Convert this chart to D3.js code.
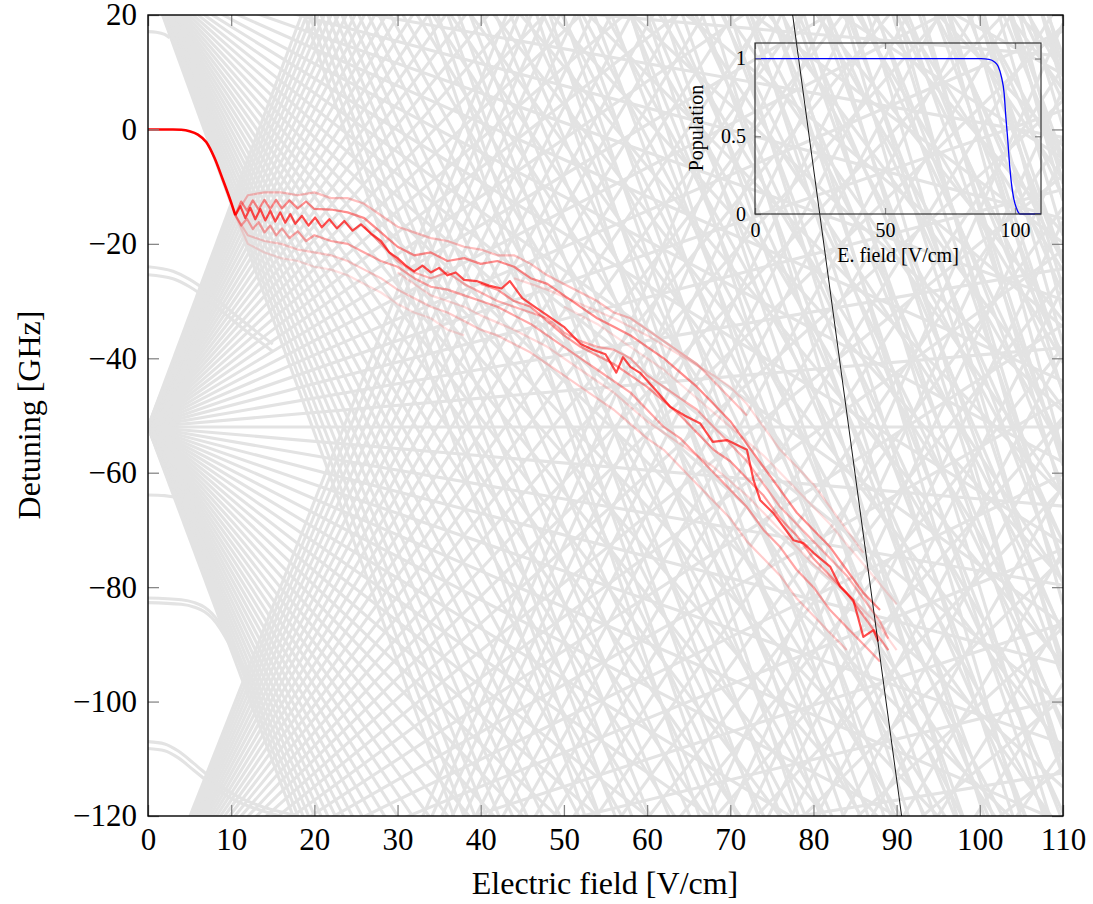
<!DOCTYPE html>
<meta charset="utf-8">
<style>
body{margin:0;background:#fff}
svg text{font-family:"Liberation Serif",serif !important;fill:#000}
</style>
<svg width="1093" height="904"></svg>
<script src="https://d3js.org/d3.v7.min.js"></script>
<script>
// hydrogenic manifolds: zero-field detuning [GHz] and slope of outermost state [GHz/(V/cm)]
var manifoldCenters = [-339, -234, -138.6, -52, 27, 98, 165, 228, 287, 342, 394, 443, 489, 532, 573, 612];
var manifoldSlopes  = [3.25, 3.45, 3.68, 3.9, 4.0, 4.15, 4.3, 4.45, 4.6, 4.75, 4.9, 5.05, 5.2, 5.35, 5.5, 5.65];
var statesPerSide = 31;

// low-l states with quadratic shift
var lowLStates = [
  [[0,17.1],[1,17],[2,16.6],[2.6,16]],
  [[0,-24],[3,-24.8],[5,-26.2],[7,-28.2],[9,-30.6],[11,-33],[13,-35.3],[15,-37.5]],
  [[0,-25.4],[3,-26.1],[5,-27.5],[7,-29.5],[9,-31.9],[11,-34.3],[13,-36.6],[15,-38.8]],
  [[0,-63.9],[2,-64],[4,-64.6],[6,-65.8]],
  [[0,-81.9],[4,-82.2],[5.6,-82.7],[6.8,-83.5],[7.7,-84.6],[8.7,-86.5],[9.6,-88.7],[11,-92.5],[12.5,-96.5]],
  [[0,-82.7],[4,-83],[5.6,-83.5],[6.8,-84.3],[7.7,-85.4],[8.7,-87.3],[9.6,-89.5],[11,-93.3],[12.5,-97.3]],
  [[0,-107],[2,-107.4],[3.6,-108.6],[5.5,-110.8],[7.7,-113.5],[9.3,-115.3],[10.8,-116.6],[12.5,-117.7],[14,-118.5],[16,-119.3],[18,-120]],
  [[0,-108.2],[2,-108.6],[3.6,-109.8],[5.5,-112],[7.7,-114.6],[9.3,-116.3],[10.8,-117.5],[12.5,-118.5],[14,-119.2],[16,-120]]
];

// adiabatic path of the initial state
var mainPath = [[0,0],[3,0],[4,-0.05],[5,-0.3],[6,-0.9],[7,-2.2],[8,-5],[9,-8.8],[10,-12.8],[10.5,-15],
  [11.1,-13.4],[11.7,-15.5],[12.3,-13.7],[12.9,-15.7],[13.5,-13.9],[14.1,-15.9],[14.7,-14.2],[15.3,-16.1],
  [15.9,-14.5],[16.5,-16.3],[17.1,-14.8],[17.7,-16.5],[18.5,-15.1],[19.3,-16.8],[20.1,-15.4],[20.9,-17.1],
  [21.8,-15.7],[22.7,-17.3],[23.6,-16],[24.6,-17.7],[25.6,-16.6],[26.8,-18.2],[28,-19.5],[29,-21.5],
  [30,-22.5],[31,-23.8],[32,-24.8],[33,-23.8],[34,-25],[35,-24.2],[36,-25.5],[37,-25],[38,-26.3],
  [39.5,-26.5],[41,-27.3],[42.5,-27.8],[43.5,-26.5],[45,-29.5],[46.5,-31],[48,-32.5],[50,-34.5],
  [52,-37.5],[53.5,-38.5],[55,-39.3],[56.3,-42.5],[57.1,-39.8],[58,-41.5],[59.2,-42.6],[61,-45.5],
  [62.8,-48.5],[64.5,-50],[66.4,-51.4],[67.9,-54.6],[69.6,-54.3],[72,-56],[72.8,-61.3],[73.6,-64.8],
  [75.2,-67.1],[77.6,-71.8],[78.8,-72.3],[80,-74],[82,-76.4],[83.2,-79.9],[84.8,-82.3],[86,-88.7],
  [87.2,-87.5],[87.8,-89.5]];

// weaker paths the population spreads into, with their opacity
var sidePaths = [
  [[10.5,-15],[11.2,-12.6],[11.9,-14.2],[12.6,-12.4],[13.3,-14],[14,-12.3],[14.7,-13.9],[15.4,-12.3],[16.1,-13.8],[17,-12.4],[18,-13.8],[19,-12.6],[20,-13.9],[22,-14],[24,-14.5],[26,-15.5],[28,-18],[30,-20.5],[32,-22],[34,-21.5],[36,-23],[38,-22.5],[40,-23.5],[42,-23],[44,-24],[46,-26],[48,-27],[50,-29],[52,-31],[54,-33],[56,-34.5],[58,-36],[60,-38],[62,-40],[64,-42.5],[66,-45],[68,-48],[70,-51],[72,-55],[74,-59],[76,-63],[78,-67],[80,-70],[82,-73],[84,-77],[86,-81],[88,-84]],
  [[10.5,-15],[11.2,-16.8],[11.9,-15.6],[12.6,-17.4],[13.3,-16.2],[14,-18],[14.7,-16.8],[15.4,-18.5],[16.1,-17.3],[17,-19],[18,-17.8],[19,-19.5],[20,-18.5],[22,-19.5],[24,-20],[26,-21.5],[28,-23],[30,-24],[32,-26],[34,-27.5],[36,-28],[38,-29],[40,-30],[42,-31],[44,-32.5],[46,-34],[48,-36],[50,-38],[52,-40],[54,-42],[56,-44],[58,-46],[60,-49],[62,-52],[64,-54],[66,-57],[68,-60],[70,-63],[72,-66],[74,-70],[76,-73],[78,-77],[80,-80],[82,-84],[84,-87],[86,-90],[88,-93]],
  [[10.5,-15],[12,-11.5],[14,-11],[16,-11],[18,-11.5],[20,-11],[22,-12],[24,-12],[26,-13],[28,-15],[30,-17],[32,-18],[34,-19],[36,-19.5],[38,-20.5],[40,-21],[42,-22],[44,-22],[46,-23.5],[48,-25.5],[50,-27],[52,-28.5],[54,-30],[56,-32],[58,-33],[60,-35],[62,-37],[64,-39],[66,-41],[68,-44],[70,-47],[72,-50]],
  [[10.5,-15],[12,-18.5],[14,-19.5],[16,-20],[18,-21],[20,-21.5],[22,-22],[24,-23],[26,-24.5],[28,-26],[30,-28],[32,-29.5],[34,-31],[36,-32],[38,-33.5],[40,-35],[42,-36],[44,-37.5],[46,-39],[48,-41],[50,-43],[52,-45],[54,-47],[56,-49],[58,-51.5],[60,-54],[62,-56],[64,-59],[66,-62],[68,-65],[70,-68],[72,-72],[74,-75],[76,-78],[78,-82],[80,-85],[82,-88],[84,-91]],
  [[26,-17],[28,-20],[30,-23],[32,-25],[34,-26],[36,-25],[38,-27],[40,-28.5],[42,-30],[44,-31],[46,-32],[48,-33],[50,-35.5],[52,-37],[54,-38],[56,-38.5],[58,-40],[60,-43],[62,-45],[64,-47],[66,-49],[68,-52],[70,-55],[72,-58],[74,-62],[76,-66],[78,-69],[80,-72],[82,-75],[84,-78],[86,-82],[88,-86],[89,-89]],
  [[40,-27],[42,-28],[44,-30],[46,-31],[48,-33.5],[50,-36],[52,-38],[54,-39.5],[56,-41],[58,-43],[60,-45],[62,-47.5],[64,-50],[66,-53],[68,-56],[70,-58],[72,-61],[74,-64],[76,-68],[78,-71],[80,-75],[82,-78],[84,-81],[86,-85],[88,-89],[89,-91]],
  [[30,-25],[32,-27],[34,-29],[36,-30],[38,-31],[40,-32.5],[44,-35],[48,-38],[52,-42],[56,-46],[60,-51],[64,-55],[68,-59],[72,-64],[76,-70],[80,-76],[84,-81],[88,-87],[90,-91]],
  [[44,-26],[48,-28],[52,-30.5],[56,-33],[60,-36],[64,-39.5],[68,-43],[70,-45],[72,-48],[74,-52],[76,-56],[78,-59],[80,-62],[82,-66],[84,-70],[86,-74]],
  [[10.5,-15],[12,-20],[14,-21.5],[16,-22.5],[18,-23],[20,-24],[22,-24.5],[24,-25.5],[26,-27],[28,-28.5],[30,-30.5],[32,-32],[34,-33],[36,-35],[38,-36]],
  [[50,-31],[54,-34],[58,-38],[62,-42],[66,-47],[70,-52],[74,-57],[78,-63],[82,-69],[86,-76],[90,-83]]
];
var sideOpacity = [0.45, 0.35, 0.25, 0.2, 0.3, 0.4, 0.15, 0.15, 0.12, 0.12];

// classical ionisation threshold
var threshold = [[77.5,20],[90.6,-120]];

// inset: population vs field
var popField = [0,87,90,92,93.5,94.8,95.8,96.5,97.2,97.9,98.6,99.5,100.5,101.5,102,110];
var popValue = [1,1,0.995,0.98,0.95,0.88,0.78,0.62,0.48,0.32,0.2,0.1,0.04,0.005,0,0];

var xTicks = [0,10,20,30,40,50,60,70,80,90,100,110];
var yTicks = [20,0,-20,-40,-60,-80,-100,-120];
var insetXTicks = [0,50,100];
var insetYTicks = [0,0.5,1];

var svg = d3.select("svg");
var x = d3.scaleLinear().domain([0,110]).range([148,1063]);
var y = d3.scaleLinear().domain([-120,20]).range([816,15]);
var fmt = function(d){ return String(d).replace("-","\u2212"); };

svg.append("defs").append("clipPath").attr("id","clip").append("rect")
  .attr("x",148).attr("y",15).attr("width",915).attr("height",801);

var plot = svg.append("g").attr("clip-path","url(#clip)");
var line = d3.line().x(function(d){return x(d[0]);}).y(function(d){return y(d[1]);});
var smooth = d3.line().x(function(d){return x(d[0]);}).y(function(d){return y(d[1]);}).curve(d3.curveMonotoneX);

// Stark fans
manifoldCenters.forEach(function(c,i){
  var s = manifoldSlopes[i];
  d3.range(-statesPerSide, statesPerSide+1).forEach(function(k){
    plot.append("path")
      .attr("d", line([[0,c],[110,c + s*k/statesPerSide*110]]))
      .attr("fill","none").attr("stroke","#e3e3e3").attr("stroke-width",3.1);
  });
});

lowLStates.forEach(function(p){
  plot.append("path").attr("d", smooth(p))
    .attr("fill","none").attr("stroke","#e3e3e3").attr("stroke-width",3.1);
});

sidePaths.forEach(function(p,i){
  plot.append("path").attr("d", line(p))
    .attr("fill","none").attr("stroke","#ff0000").attr("stroke-opacity",sideOpacity[i])
    .attr("stroke-width",2.2).attr("stroke-linejoin","round");
});

plot.append("path").attr("d", line(mainPath.filter(function(d){return d[0]>=10.5;})))
  .attr("fill","none").attr("stroke","#ff0000").attr("stroke-opacity",0.7)
  .attr("stroke-width",2.2).attr("stroke-linejoin","round");
plot.append("path").attr("d", smooth(mainPath.filter(function(d){return d[0]<=10.5;})))
  .attr("fill","none").attr("stroke","#ff0000").attr("stroke-width",2.6);

plot.append("path").attr("d", line(threshold))
  .attr("fill","none").attr("stroke","#000").attr("stroke-width",0.9);

// axes, ticks inward on all sides
function styleAxis(g){
  g.select(".domain").remove();
  g.selectAll(".tick line").attr("stroke","#888").attr("stroke-width",1.3);
  g.selectAll("text").attr("fill","#000");
}
svg.append("g").attr("transform","translate(0,816)")
  .call(d3.axisBottom(x).tickValues(xTicks).tickSizeInner(-11).tickSizeOuter(0).tickPadding(12).tickFormat(fmt))
  .call(styleAxis).selectAll("text").attr("font-size",31);
svg.append("g").attr("transform","translate(0,15)")
  .call(d3.axisTop(x).tickValues(xTicks).tickSizeInner(-11).tickSizeOuter(0).tickFormat(""))
  .call(styleAxis);
svg.append("g").attr("transform","translate(148,0)")
  .call(d3.axisLeft(y).tickValues(yTicks).tickSizeInner(-11).tickSizeOuter(0).tickPadding(11).tickFormat(fmt))
  .call(styleAxis).selectAll("text").attr("font-size",31);
svg.append("g").attr("transform","translate(1063,0)")
  .call(d3.axisRight(y).tickValues(yTicks).tickSizeInner(-11).tickSizeOuter(0).tickFormat(""))
  .call(styleAxis);

svg.append("rect").attr("x",148).attr("y",15).attr("width",915).attr("height",801)
  .attr("fill","none").attr("stroke","#000").attr("stroke-width",1.4);

svg.append("text").attr("x",605).attr("y",894).attr("text-anchor","middle")
  .attr("font-size",32).text("Electric field [V/cm]");
svg.append("text").attr("transform","translate(40,415) rotate(-90)").attr("text-anchor","middle")
  .attr("font-size",32).text("Detuning [GHz]");

// inset
var xi = d3.scaleLinear().domain([0,110]).range([755,1041]);
var yi = d3.scaleLinear().domain([0,1.1]).range([214,43]);
var popLine = d3.line().x(function(d,i){return xi(popField[i]);}).y(function(d){return yi(d);}).curve(d3.curveMonotoneX);

svg.append("path").attr("d", popLine(popValue))
  .attr("fill","none").attr("stroke","#0000ff").attr("stroke-width",1.3);

svg.append("g").attr("transform","translate(0,214)")
  .call(d3.axisBottom(xi).tickValues(insetXTicks).tickSizeInner(-6).tickSizeOuter(0).tickPadding(9))
  .call(styleAxis).selectAll("text").attr("font-size",20);
svg.append("g").attr("transform","translate(0,43)")
  .call(d3.axisTop(xi).tickValues(insetXTicks).tickSizeInner(-6).tickSizeOuter(0).tickFormat(""))
  .call(styleAxis);
svg.append("g").attr("transform","translate(755,0)")
  .call(d3.axisLeft(yi).tickValues(insetYTicks).tickSizeInner(-6).tickSizeOuter(0).tickPadding(9).tickFormat(d3.format("")))
  .call(styleAxis).selectAll("text").attr("font-size",20);
svg.append("g").attr("transform","translate(1041,0)")
  .call(d3.axisRight(yi).tickValues(insetYTicks).tickSizeInner(-6).tickSizeOuter(0).tickFormat(""))
  .call(styleAxis);

svg.append("rect").attr("x",755).attr("y",43).attr("width",286).attr("height",171)
  .attr("fill","none").attr("stroke","#333").attr("stroke-width",1.2);

svg.append("text").attr("x",898).attr("y",262).attr("text-anchor","middle")
  .attr("font-size",20).text("E. field [V/cm]");
svg.append("text").attr("transform","translate(703,128) rotate(-90)").attr("text-anchor","middle")
  .attr("font-size",20).text("Population");
</script>
